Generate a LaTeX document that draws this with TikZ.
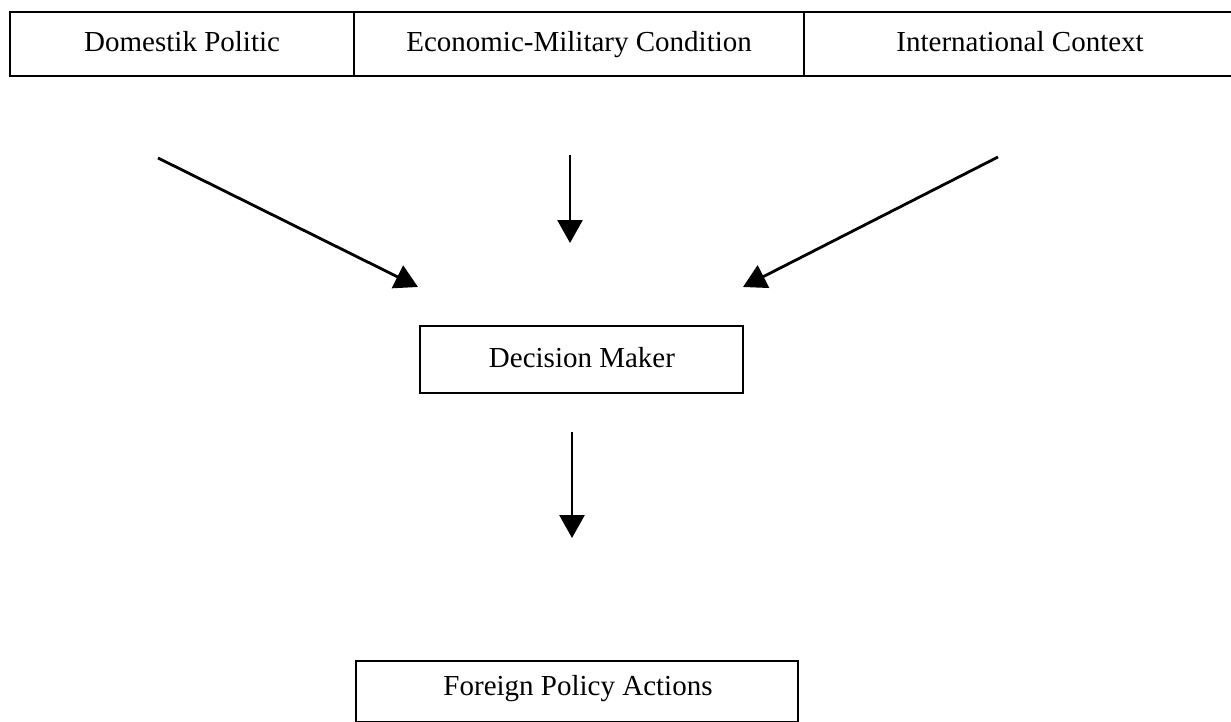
\documentclass[tikz,border=0pt]{standalone}
\usepackage{fontspec}
\setmainfont{Liberation Serif}
\usepackage{tikz}
\usetikzlibrary{positioning,arrows.meta}
\tikzset{
  topbox/.style={rectangle, draw=black, line width=2.2pt, minimum height=64pt, inner sep=0pt, anchor=north west, text height=20pt, text depth=6pt, font=\fontsize{29}{35}\selectfont},
  box/.style={rectangle, draw=black, line width=2.4pt, inner sep=0pt, anchor=north west},
  lbl/.style={inner sep=0pt, anchor=base, font=\fontsize{29}{35}\selectfont},
  arr/.style={draw=black, line width=2.8pt, -{Triangle[length=23pt,width=25pt]}}
}

\begin{document}
\begin{tikzpicture}[x=1pt,y=-1pt]
  \useasboundingbox (0,0) rectangle (1231,722);
  % top row
  \node[topbox, minimum width=344pt] (dom) at (9,11) {Domestik Politic};
  \node[topbox, minimum width=450pt] (eco) at (353,11) {Economic-Military Condition};
  \node[topbox, minimum width=432pt] (int) at (803,11) {International Context};
  % decision maker
  \node[box, minimum width=323pt, minimum height=67pt] (dm) at (419,325) {};
  \node[lbl] (dmt) at (582,367) {Decision Maker};
  % foreign policy
  \node[box, minimum width=442pt, minimum height=61pt] (fpa) at (355,660) {};
  \node[lbl] (fpat) at (578,695) {Foreign Policy Actions};
  % arrow ends
  \coordinate (a1) at (158,158); \coordinate (b1) at (418,287);
  \coordinate (a2) at (570,155); \coordinate (b2) at (570,243);
  \coordinate (a3) at (998,157); \coordinate (b3) at (743,287);
  \coordinate (a4) at (572,432); \coordinate (b4) at (572,538);
  \draw[arr] (a1)--(b1); \draw[arr] (a2)--(b2);
  \draw[arr] (a3)--(b3); \draw[arr] (a4)--(b4);
\end{tikzpicture}
\end{document}
